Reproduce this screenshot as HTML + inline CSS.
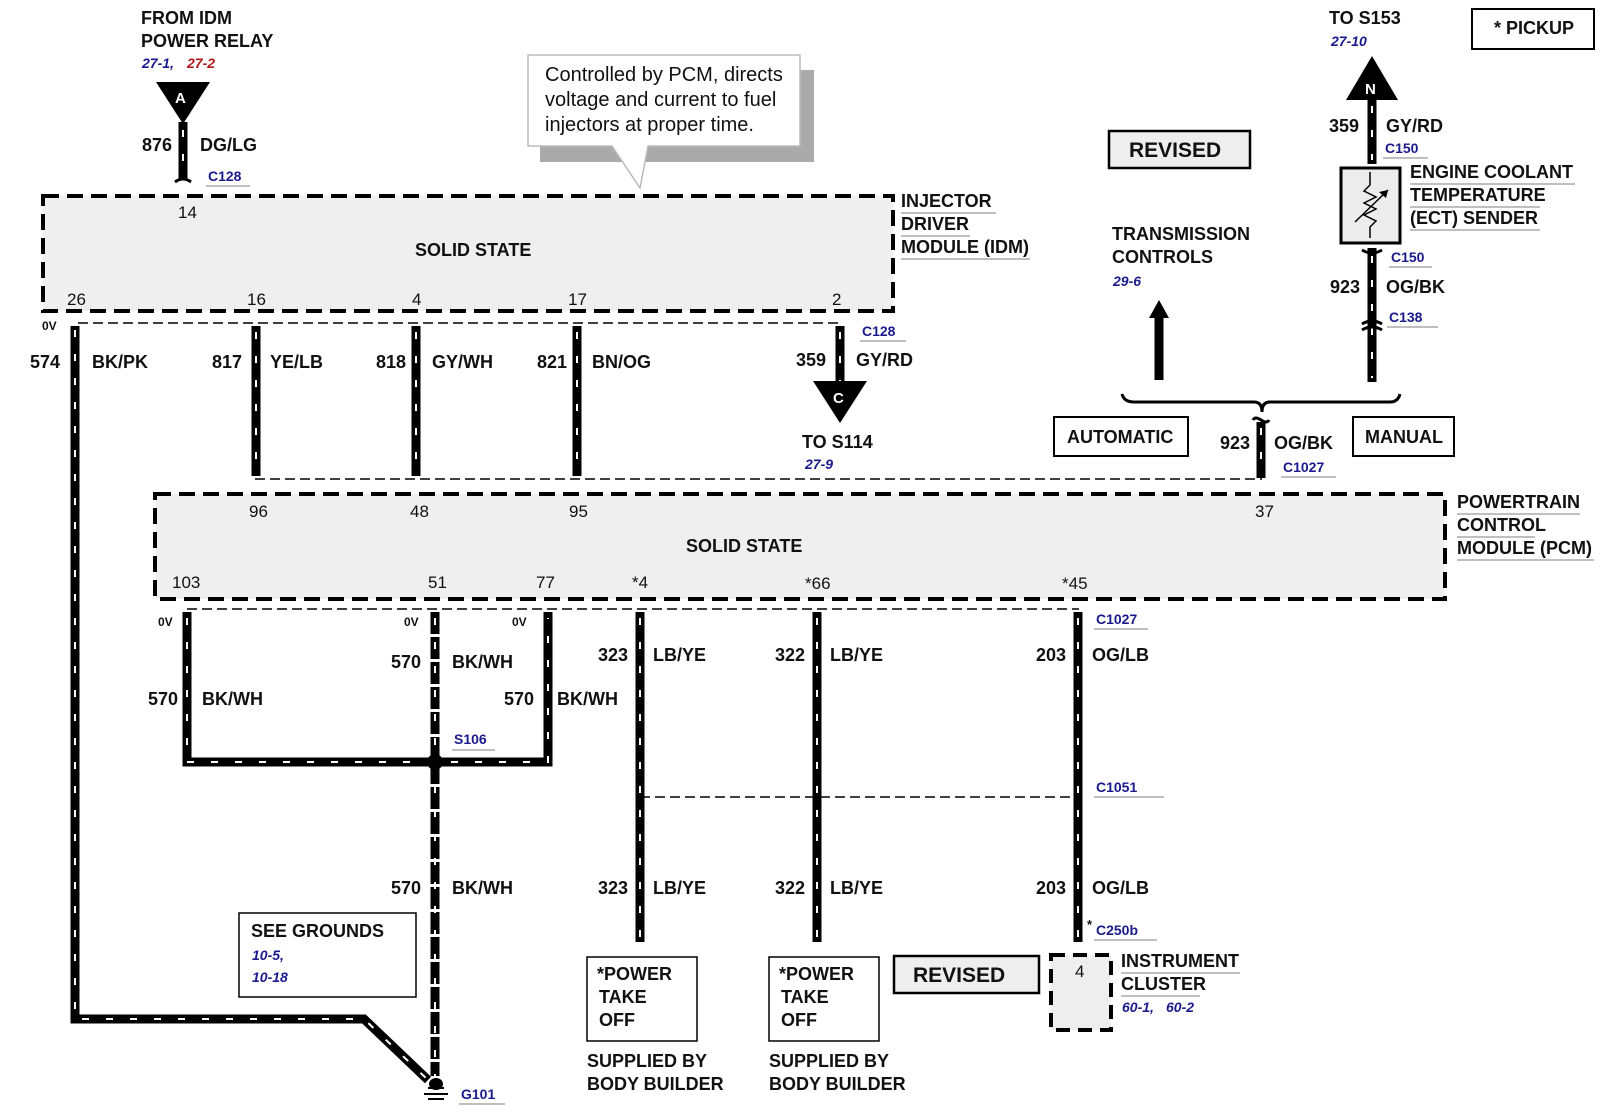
<!DOCTYPE html>
<html><head><meta charset="utf-8"><style>
html,body{margin:0;padding:0;background:#fff}
svg{display:block}
text{font-family:"Liberation Sans",Arial,sans-serif;font-weight:bold;font-size:18px;fill:#111}
.n{font-weight:normal;font-size:17px}
.c{font-weight:normal;font-size:20px}
.b{fill:#1a1a8c;font-size:14px}
.bi{fill:#1a1a8c;font-size:14px;font-style:italic}
.ri{fill:#b01818;font-size:14px;font-style:italic}
.w{fill:none;stroke:#000;stroke-width:9}
.wd{fill:none;stroke:#fff;stroke-width:2;stroke-dasharray:7 17}
.ul{stroke:#999;stroke-width:1.2}
</style></head><body>
<svg width="1600" height="1113" viewBox="0 0 1600 1113" xmlns="http://www.w3.org/2000/svg">
<!-- callout -->
<rect x="540" y="70" width="274" height="92" fill="#aaa"/>
<path d="M528 55 H800 V146 H648 L640 188 L612 146 H528 Z" fill="#fff" stroke="#bbb" stroke-width="1.5"/>
<text class="c" x="545" y="81">Controlled by PCM, directs</text>
<text class="c" x="545" y="106">voltage and current to fuel</text>
<text class="c" x="545" y="131">injectors at proper time.</text>

<!-- IDM box -->
<rect x="43" y="196" width="850" height="115" fill="#efefef" stroke="#000" stroke-width="4" stroke-dasharray="16 8"/>
<text x="415" y="256">SOLID STATE</text>
<text class="n" x="178" y="218">14</text>
<text class="n" x="67" y="305">26</text>
<text class="n" x="247" y="305">16</text>
<text class="n" x="412" y="305">4</text>
<text class="n" x="568" y="305">17</text>
<text class="n" x="832" y="305">2</text>
<text x="901" y="207">INJECTOR</text><line class="ul" x1="901" y1="213" x2="996" y2="213"/>
<text x="901" y="230">DRIVER</text><line class="ul" x1="901" y1="236" x2="970" y2="236"/>
<text x="901" y="253">MODULE (IDM)</text><line class="ul" x1="901" y1="259" x2="1030" y2="259"/>

<!-- top left A -->
<text x="141" y="24">FROM IDM</text>
<text x="141" y="47">POWER RELAY</text>
<text class="bi" x="142" y="68">27-1,</text><text class="ri" x="187" y="68">27-2</text>
<path d="M156 82 H210 L183 124 Z" fill="#000"/>
<text x="175" y="103" style="fill:#fff;font-size:15px">A</text>
<path class="w" d="M183 122 V180"/><path class="wd" d="M183 130 V180"/>
<path d="M175 182 Q183 176 191 182" fill="none" stroke="#000" stroke-width="3"/>
<text x="142" y="151">876</text><text x="200" y="151">DG/LG</text>
<text class="b" x="208" y="181">C128</text><line class="ul" x1="206" y1="186" x2="250" y2="186"/>

<!-- dashed connector lines -->
<path d="M78 323 H842" stroke="#000" stroke-width="1.5" stroke-dasharray="10 5"/>
<path d="M255 479 H1262" stroke="#000" stroke-width="1.5" stroke-dasharray="10 5"/>
<path d="M187 609 H1079" stroke="#000" stroke-width="1.5" stroke-dasharray="10 5"/>
<path d="M640 797 H1079" stroke="#000" stroke-width="1.5" stroke-dasharray="10 5"/>

<!-- IDM wires -->
<path class="w" d="M75 326 V1019 H364 L428 1080"/>
<path class="wd" d="M75 330 V1019 H364 L428 1080"/>
<path class="w" d="M256 326 V476"/><path class="wd" d="M256 332 V476"/>
<path class="w" d="M416 326 V476"/><path class="wd" d="M416 332 V476"/>
<path class="w" d="M577 326 V476"/><path class="wd" d="M577 332 V476"/>
<path class="w" d="M840 326 V385"/><path class="wd" d="M840 332 V385"/>
<path d="M813 381 H867 L840 423 Z" fill="#000"/>
<text x="833" y="403" style="fill:#fff;font-size:15px">C</text>
<text x="42" y="330" style="font-size:12px">0V</text>
<text x="30" y="368">574</text><text x="92" y="368">BK/PK</text>
<text x="212" y="368">817</text><text x="270" y="368">YE/LB</text>
<text x="376" y="368">818</text><text x="432" y="368">GY/WH</text>
<text x="537" y="368">821</text><text x="592" y="368">BN/OG</text>
<text x="796" y="366">359</text><text x="856" y="366">GY/RD</text>
<text class="b" x="862" y="336">C128</text><line class="ul" x1="860" y1="341" x2="906" y2="341"/>
<text x="802" y="448">TO S114</text>
<text class="bi" x="805" y="469">27-9</text>

<!-- PCM box -->
<rect x="155" y="494" width="1290" height="105" fill="#efefef" stroke="#000" stroke-width="4" stroke-dasharray="16 8"/>
<text x="686" y="552">SOLID STATE</text>
<text class="n" x="249" y="517">96</text>
<text class="n" x="410" y="517">48</text>
<text class="n" x="569" y="517">95</text>
<text class="n" x="1255" y="517">37</text>
<text class="n" x="172" y="588">103</text>
<text class="n" x="428" y="588">51</text>
<text class="n" x="536" y="588">77</text>
<text class="n" x="632" y="588">*4</text>
<text class="n" x="805" y="589">*66</text>
<text class="n" x="1062" y="589">*45</text>
<text x="1457" y="508">POWERTRAIN</text><line class="ul" x1="1457" y1="514" x2="1580" y2="514"/>
<text x="1457" y="531">CONTROL</text><line class="ul" x1="1457" y1="537" x2="1535" y2="537"/>
<text x="1457" y="554">MODULE (PCM)</text><line class="ul" x1="1457" y1="560" x2="1594" y2="560"/>

<!-- PCM bottom wires -->
<path class="w" d="M187 612 V762 H548 V612"/>
<path class="wd" d="M187 618 V762 H548 V618"/>
<path class="w" d="M435 612 V1076" stroke-dasharray="22 3"/><path class="wd" d="M435 618 V1076"/>
<circle cx="435" cy="762" r="8" fill="#000"/>
<path d="M428 1088 h16 M424 1094 h24 M428 1099 h16" stroke="#000" stroke-width="2"/>
<ellipse cx="436" cy="1084" rx="7" ry="6" fill="#000"/>
<path class="w" d="M640 612 V942"/><path class="wd" d="M640 618 V940"/>
<path class="w" d="M817 612 V942"/><path class="wd" d="M817 618 V940"/>
<path class="w" d="M1078 612 V942"/><path class="wd" d="M1078 618 V940"/>
<text style="font-size:12px" x="158" y="626">0V</text>
<text style="font-size:12px" x="404" y="626">0V</text>
<text style="font-size:12px" x="512" y="626">0V</text>
<text x="148" y="705">570</text><text x="202" y="705">BK/WH</text>
<text x="391" y="668">570</text><text x="452" y="668">BK/WH</text>
<text x="504" y="705">570</text><text x="557" y="705">BK/WH</text>
<text class="b" x="454" y="744">S106</text><line class="ul" x1="452" y1="750" x2="495" y2="750"/>
<text x="391" y="894">570</text><text x="452" y="894">BK/WH</text>
<text x="598" y="661">323</text><text x="653" y="661">LB/YE</text>
<text x="775" y="661">322</text><text x="830" y="661">LB/YE</text>
<text x="1036" y="661">203</text><text x="1092" y="661">OG/LB</text>
<text class="b" x="1096" y="624">C1027</text><line class="ul" x1="1094" y1="629" x2="1148" y2="629"/>
<text class="b" x="1096" y="792">C1051</text><line class="ul" x1="1094" y1="797" x2="1164" y2="797"/>
<text x="598" y="894">323</text><text x="653" y="894">LB/YE</text>
<text x="775" y="894">322</text><text x="830" y="894">LB/YE</text>
<text x="1036" y="894">203</text><text x="1092" y="894">OG/LB</text>
<text class="b" x="1096" y="935">C250b</text><text x="1087" y="929" style="font-size:13px">*</text><line class="ul" x1="1094" y1="940" x2="1157" y2="940"/>

<!-- bottom boxes -->
<rect x="239" y="913" width="177" height="84" fill="#fff" stroke="#000" stroke-width="1.5"/>
<text x="251" y="937">SEE GROUNDS</text>
<text class="bi" x="252" y="960">10-5,</text>
<text class="bi" x="252" y="982">10-18</text>
<text class="b" x="461" y="1099">G101</text><line class="ul" x1="459" y1="1104" x2="505" y2="1104"/>
<rect x="587" y="957" width="110" height="84" fill="#fff" stroke="#000" stroke-width="1.5"/>
<text x="597" y="980">*POWER</text><text x="599" y="1003">TAKE</text><text x="599" y="1026">OFF</text>
<text x="587" y="1067">SUPPLIED BY</text><text x="587" y="1090">BODY BUILDER</text>
<rect x="769" y="957" width="110" height="84" fill="#fff" stroke="#000" stroke-width="1.5"/>
<text x="779" y="980">*POWER</text><text x="781" y="1003">TAKE</text><text x="781" y="1026">OFF</text>
<text x="769" y="1067">SUPPLIED BY</text><text x="769" y="1090">BODY BUILDER</text>
<rect x="894" y="956" width="145" height="37" fill="#eee" stroke="#000" stroke-width="2.5"/>
<text x="913" y="982" style="font-size:21px">REVISED</text>
<rect x="1051" y="955" width="60" height="75" fill="#eee" stroke="#000" stroke-width="4" stroke-dasharray="14 8"/>
<text class="n" x="1075" y="977">4</text>
<text x="1121" y="967">INSTRUMENT</text><line class="ul" x1="1121" y1="973" x2="1240" y2="973"/>
<text x="1121" y="990">CLUSTER</text><line class="ul" x1="1121" y1="996" x2="1200" y2="996"/>
<text class="bi" x="1122" y="1012">60-1,</text><text class="bi" x="1166" y="1012">60-2</text>

<!-- right side -->
<rect x="1472" y="9" width="122" height="40" fill="#fff" stroke="#000" stroke-width="2"/>
<text x="1494" y="34">* PICKUP</text>
<text x="1329" y="24">TO S153</text>
<text class="bi" x="1331" y="46">27-10</text>
<path d="M1372 56 L1398 100 H1346 Z" fill="#000"/>
<text x="1365" y="94" style="fill:#fff;font-size:15px">N</text>
<path class="w" d="M1372 98 V164"/><path class="wd" d="M1372 106 V160"/>
<text x="1329" y="132">359</text><text x="1386" y="132">GY/RD</text>
<text class="b" x="1385" y="153">C150</text><line class="ul" x1="1383" y1="158" x2="1428" y2="158"/>
<rect x="1341" y="168" width="59" height="75" fill="#ececec" stroke="#000" stroke-width="3"/>
<path d="M1370 172 V185 l-6 6 12 6 -12 6 12 6 -12 6 12 6 -6 6 V238" fill="none" stroke="#000" stroke-width="1.5"/>
<path d="M1355 222 L1388 190" stroke="#000" stroke-width="1.5"/><path d="M1388 190 l-9 2 7 6 z" fill="#000"/>
<text x="1410" y="178">ENGINE COOLANT</text><line class="ul" x1="1410" y1="184" x2="1575" y2="184"/>
<text x="1410" y="201">TEMPERATURE</text><line class="ul" x1="1410" y1="207" x2="1540" y2="207"/>
<text x="1410" y="224">(ECT) SENDER</text><line class="ul" x1="1410" y1="230" x2="1540" y2="230"/>
<path class="w" d="M1372 248 V382"/><path class="wd" d="M1372 256 V378"/>
<path d="M1362 250 Q1372 256 1382 250 M1362 324 Q1372 318 1382 324 M1362 330 Q1372 324 1382 330" fill="none" stroke="#000" stroke-width="3"/>
<text class="b" x="1391" y="262">C150</text><line class="ul" x1="1389" y1="267" x2="1432" y2="267"/>
<text x="1330" y="293">923</text><text x="1386" y="293">OG/BK</text>
<text class="b" x="1389" y="322">C138</text><line class="ul" x1="1387" y1="327" x2="1438" y2="327"/>
<rect x="1109" y="131" width="141" height="37" fill="#eee" stroke="#000" stroke-width="2.5"/>
<text x="1129" y="157" style="font-size:21px">REVISED</text>
<text x="1112" y="240">TRANSMISSION</text>
<text x="1112" y="263">CONTROLS</text>
<text class="bi" x="1113" y="286">29-6</text>
<path d="M1159 300 L1169 318 H1149 Z" fill="#000"/>
<path d="M1159 316 V380" stroke="#000" stroke-width="9"/>
<path d="M1122 394 Q1124 402 1134 402 H1254 Q1262 402 1262 412 Q1262 402 1270 402 H1390 Q1398 402 1400 394" fill="none" stroke="#000" stroke-width="3"/>
<rect x="1054" y="417" width="134" height="39" fill="#fff" stroke="#000" stroke-width="2"/>
<text x="1067" y="443">AUTOMATIC</text>
<rect x="1353" y="417" width="101" height="39" fill="#fff" stroke="#000" stroke-width="2"/>
<text x="1365" y="443">MANUAL</text>
<path class="w" d="M1261 422 V478"/><path class="wd" d="M1261 428 V474"/>
<path d="M1253 420 Q1255 416 1261 420 Q1267 424 1269 420" fill="none" stroke="#000" stroke-width="3"/>
<text x="1220" y="449">923</text><text x="1274" y="449">OG/BK</text>
<text class="b" x="1283" y="472">C1027</text><line class="ul" x1="1281" y1="477" x2="1336" y2="477"/>
</svg>
</body></html>
